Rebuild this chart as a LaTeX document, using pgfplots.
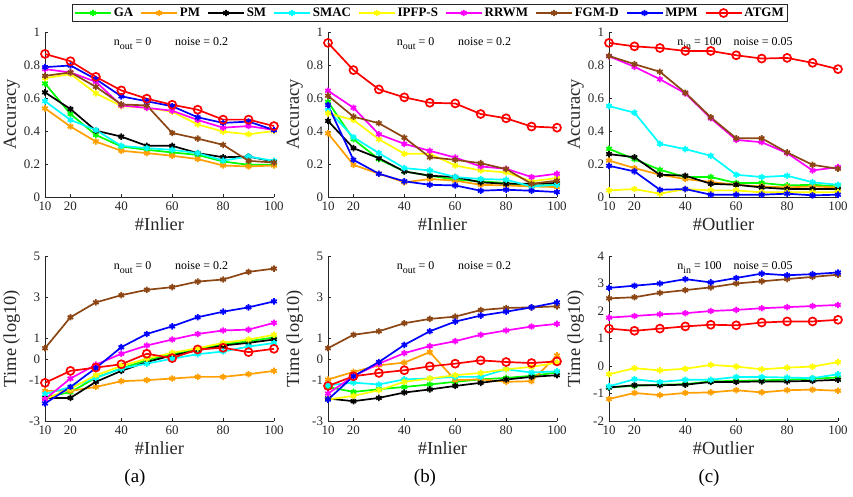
\documentclass[border=0pt]{standalone}
\usepackage{fontspec}
\setmainfont{Liberation Serif}
\usepackage{pgfplots}
\usepackage{pgfplotstable}
\pgfplotsset{compat=1.18}

\definecolor{cga}{RGB}{0,255,0}
\definecolor{cpm}{RGB}{255,160,0}
\definecolor{csm}{RGB}{0,0,0}
\definecolor{csmac}{RGB}{0,255,255}
\definecolor{cipfp}{RGB}{255,255,0}
\definecolor{crrwm}{RGB}{255,0,255}
\definecolor{cfgmd}{RGB}{140,70,20}
\definecolor{cmpm}{RGB}{0,0,255}
\definecolor{catgm}{RGB}{255,0,0}
\definecolor{axgray}{RGB}{38,38,38}

% accuracy, varying #inlier (a)
\pgfplotstableread{
x   ga    pm    sm    smac  ipfp  rrwm  fgmd  mpm   atgm
10  0.688 0.537 0.634 0.581 0.720 0.775 0.734 0.787 0.867
20  0.503 0.427 0.533 0.467 0.745 0.755 0.755 0.797 0.823
30  0.376 0.336 0.402 0.406 0.628 0.698 0.668 0.714 0.728
40  0.306 0.280 0.366 0.310 0.551 0.555 0.561 0.610 0.646
50  0.286 0.266 0.310 0.296 0.540 0.540 0.555 0.580 0.596
60  0.270 0.250 0.310 0.286 0.517 0.523 0.388 0.550 0.559
70  0.255 0.230 0.266 0.266 0.440 0.467 0.354 0.483 0.529
80  0.215 0.191 0.241 0.221 0.396 0.420 0.316 0.449 0.469
90  0.195 0.185 0.245 0.245 0.380 0.430 0.219 0.457 0.469
100 0.195 0.191 0.215 0.219 0.400 0.406 0.209 0.406 0.430
}\accA

% accuracy (b)
\pgfplotstableread{
x   ga    pm    sm    smac  ipfp  rrwm  fgmd  mpm   atgm
10  0.577 0.386 0.461 0.527 0.507 0.644 0.614 0.557 0.934
20  0.350 0.195 0.296 0.362 0.467 0.541 0.487 0.225 0.769
30  0.229 0.141 0.235 0.266 0.350 0.380 0.447 0.141 0.652
40  0.155 0.089 0.155 0.175 0.262 0.322 0.360 0.095 0.604
50  0.129 0.109 0.129 0.161 0.262 0.280 0.241 0.074 0.571
60  0.105 0.099 0.121 0.121 0.191 0.239 0.225 0.070 0.567
70  0.095 0.074 0.089 0.109 0.161 0.185 0.205 0.038 0.503
80  0.085 0.070 0.080 0.105 0.149 0.171 0.169 0.044 0.477
90  0.068 0.064 0.080 0.064 0.095 0.121 0.080 0.038 0.427
100 0.074 0.060 0.085 0.074 0.115 0.141 0.099 0.030 0.420
}\accB

% accuracy, varying #outlier (c)
\pgfplotstableread{
x   ga    pm    sm    smac  ipfp  rrwm  fgmd  mpm   atgm
10  0.292 0.221 0.260 0.551 0.040 0.853 0.855 0.189 0.934
20  0.229 0.175 0.241 0.511 0.048 0.789 0.805 0.155 0.913
30  0.165 0.135 0.135 0.322 0.020 0.714 0.759 0.044 0.903
40  0.121 0.109 0.129 0.290 0.048 0.628 0.632 0.048 0.885
50  0.121 0.091 0.080 0.250 0.040 0.477 0.483 0.014 0.885
60  0.085 0.074 0.074 0.135 0.040 0.346 0.356 0.014 0.859
70  0.085 0.064 0.058 0.121 0.028 0.332 0.356 0.014 0.839
80  0.070 0.058 0.048 0.129 0.030 0.266 0.270 0.020 0.843
90  0.074 0.064 0.048 0.089 0.028 0.161 0.195 0.010 0.813
100 0.064 0.058 0.048 0.074 0.030 0.181 0.171 0.014 0.775
}\accC

% time log10 (a)
\pgfplotstableread{
x   ga    pm    sm    smac  ipfp  rrwm  fgmd  mpm   atgm
10  -1.85 -1.54 -1.88 -1.70 -1.94 -1.94 0.53  -2.15 -1.15
20  -1.60 -1.54 -1.88 -1.35 -1.43 -0.94 2.03  -1.35 -0.57
30  -0.90 -1.35 -1.10 -0.91 -0.78 -0.27 2.75  -0.43 -0.41
40  -0.45 -1.07 -0.57 -0.46 -0.33 0.26  3.10  0.58  -0.25
50  -0.05 -1.02 -0.14 -0.22 0.02  0.66  3.36  1.22  0.26
60  0.25  -0.94 0.18  0.02  0.31  0.95  3.49  1.59  0.05
70  0.48  -0.86 0.42  0.24  0.53  1.22  3.76  2.03  0.47
80  0.72  -0.86 0.66  0.37  0.79  1.39  3.86  2.30  0.55
90  0.87  -0.73 0.79  0.61  0.95  1.43  4.23  2.51  0.34
100 1.05  -0.57 0.95  0.78  1.18  1.76  4.39  2.80  0.50
}\timA

% time log10 (b)
\pgfplotstableread{
x   ga    pm    sm    smac  ipfp  rrwm  fgmd  mpm   atgm
10  -1.35 -0.99 -1.91 -1.27 -1.96 -1.67 0.53  -1.96 -1.30
20  -1.59 -0.62 -2.04 -1.14 -1.78 -0.83 1.18  -0.83 -0.83
30  -1.46 -0.30 -1.88 -1.23 -1.51 -0.22 1.35  -0.14 -0.67
40  -1.35 -0.17 -1.62 -0.98 -1.10 0.29  1.74  0.69  -0.54
50  -1.23 0.34  -1.47 -0.94 -0.94 0.63  1.95  1.35  -0.35
60  -1.10 -1.02 -1.30 -0.86 -0.78 0.87  2.06  1.82  -0.22
70  -0.98 -0.98 -1.15 -0.86 -0.67 1.18  2.38  2.11  -0.06
80  -0.91 -1.10 -0.99 -0.49 -0.49 1.39  2.48  2.30  -0.14
90  -0.81 -1.07 -0.86 -0.65 -0.38 1.58  2.51  2.51  -0.19
100 -0.65 0.18  -0.78 -0.59 -0.17 1.71  2.56  2.75  -0.11
}\timB

% time log10 (c)
\pgfplotstableread{
x   ga    pm    sm    smac  ipfp  rrwm  fgmd  mpm   atgm
10  -0.78 -1.20 -0.78 -0.74 -0.30 1.76  2.46  2.84  1.36
20  -0.72 -0.98 -0.70 -0.48 -0.08 1.82  2.50  2.92  1.28
30  -0.68 -1.06 -0.70 -0.58 -0.16 1.88  2.66  3.00  1.36
40  -0.66 -0.98 -0.68 -0.50 -0.10 1.92  2.76  3.16  1.44
50  -0.56 -0.96 -0.58 -0.50 0.04  2.00  2.86  3.04  1.50
60  -0.54 -0.88 -0.58 -0.40 -0.02 2.04  3.00  3.20  1.48
70  -0.52 -0.96 -0.56 -0.40 -0.12 2.10  3.08  3.36  1.58
80  -0.50 -0.88 -0.56 -0.42 -0.06 2.14  3.16  3.30  1.62
90  -0.46 -0.86 -0.54 -0.44 -0.02 2.18  3.24  3.34  1.62
100 -0.42 -0.90 -0.50 -0.30 0.14  2.22  3.32  3.40  1.68
}\timC

\pgfplotsset{
  panel/.style={
    scale only axis, width=229bp, height=165bp,
    xmin=10, xmax=100, xtick={10,20,40,60,80,100},
    axis lines*=left, tick align=inside, major tick length=3bp,
    axis line style={axgray, line width=0.6bp},
    tick style={axgray, line width=0.6bp},
    tick label style={font=\fontsize{13}{13}\selectfont, text=axgray},
    xticklabel style={yshift=-1.5bp},
    yticklabel style={xshift=-1.5bp},
    label style={font=\fontsize{18.5}{18.5}\selectfont, text=axgray},
    ylabel style={at={(axis description cs:-0.145,0.5)}, anchor=center},
    /pgf/number format/assume math mode=true,
    clip=false,
    every axis plot/.append style={line width=1.7bp, mark size=3.2bp, mark options={solid}},
  },
  accpanel/.style={panel, ymin=0, ymax=1, ytick={0,0.2,0.4,0.6,0.8,1},
    yticklabels={0,0.2,0.4,0.6,0.8,1}, ylabel={Accuracy}},
  timepanel/.style={panel, ylabel={Time (log10)}},
  sga/.style={color=cga, mark=asterisk},
  spm/.style={color=cpm, mark=asterisk},
  ssm/.style={color=csm, mark=asterisk},
  ssmac/.style={color=csmac, mark=asterisk},
  sipfp/.style={color=cipfp, mark=asterisk},
  srrwm/.style={color=crrwm, mark=asterisk},
  sfgmd/.style={color=cfgmd, mark=asterisk},
  smpm/.style={color=cmpm, mark=asterisk},
  satgm/.style={color=catgm, mark=o, mark size=4bp},
}

\newcommand{\allseries}[1]{%
  \addplot[sga] table[x=x,y=ga] {#1};
  \addplot[spm] table[x=x,y=pm] {#1};
  \addplot[ssm] table[x=x,y=sm] {#1};
  \addplot[ssmac] table[x=x,y=smac] {#1};
  \addplot[sipfp] table[x=x,y=ipfp] {#1};
  \addplot[srrwm] table[x=x,y=rrwm] {#1};
  \addplot[sfgmd] table[x=x,y=fgmd] {#1};
  \addplot[smpm] table[x=x,y=mpm] {#1};
  \addplot[satgm] table[x=x,y=atgm] {#1};
}
\newcommand{\note}[2]{\node[font=\fontsize{12}{12}\selectfont, text=black] at (axis description cs:0.55,0.93)
  {n\raisebox{-0.7ex}{\fontsize{10}{10}\selectfont #1}\ = #2};}

\begin{document}
\begin{tikzpicture}
\path[use as bounding box] (0,0) rectangle (853bp,497bp);

% ---- top row: accuracy
\begin{axis}[accpanel, at={(45bp,300bp)}, anchor=south west, xlabel={\#Inlier},
  legend columns=9,
  legend style={at={(1.681,1.115)}, anchor=center, draw=axgray, line width=0.6bp,
    font=\bfseries\fontsize{13}{13}\selectfont, inner sep=1.5bp,
    /tikz/every even column/.append style={column sep=5bp}},
  legend image code/.code={\draw[mark repeat=2,mark phase=2]
    plot coordinates {(0bp,0bp) (18bp,0bp) (36bp,0bp)};}]
\allseries{\accA}
\legend{GA,PM,SM,SMAC,IPFP-S,RRWM,FGM-D,MPM,ATGM}
\note{out}{0\qquad noise = 0.2}
\end{axis}

\begin{axis}[accpanel, at={(328bp,300bp)}, anchor=south west, xlabel={\#Inlier}]
\allseries{\accB}
\note{out}{0\qquad noise = 0.2}
\end{axis}

\begin{axis}[accpanel, at={(609bp,300bp)}, anchor=south west, xlabel={\#Outlier}]
\allseries{\accC}
\note{in}{100\quad noise = 0.05}
\end{axis}

% ---- bottom row: time
\begin{axis}[timepanel, at={(45bp,76bp)}, anchor=south west, xlabel={\#Inlier},
  ymin=-3, ymax=5, ytick={-3,-1,0,1,3,5}]
\allseries{\timA}
\note{out}{0\qquad noise = 0.2}
\end{axis}

\begin{axis}[timepanel, at={(328bp,76bp)}, anchor=south west, xlabel={\#Inlier},
  ymin=-3, ymax=5, ytick={-3,-1,0,1,3,5}]
\allseries{\timB}
\note{out}{0\qquad noise = 0.2}
\end{axis}

\begin{axis}[timepanel, at={(609bp,76bp)}, anchor=south west, xlabel={\#Outlier},
  ymin=-2, ymax=4, ytick={-2,-1,0,1,2,3,4}]
\allseries{\timC}
\note{in}{100\quad noise = 0.05}
\end{axis}

\node[font=\fontsize{19}{19}\selectfont] at (135bp,19bp) {(a)};
\node[font=\fontsize{19}{19}\selectfont] at (425bp,19bp) {(b)};
\node[font=\fontsize{19}{19}\selectfont] at (709bp,19bp) {(c)};
\end{tikzpicture}
\end{document}
